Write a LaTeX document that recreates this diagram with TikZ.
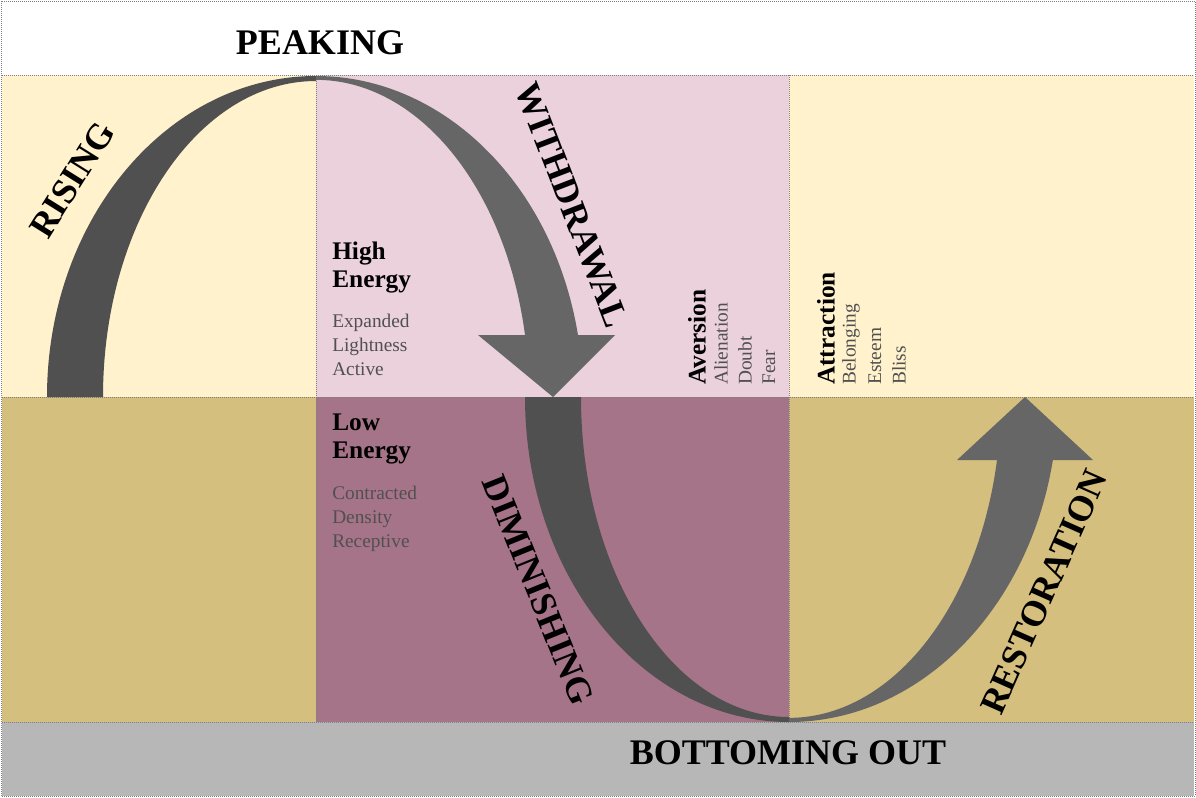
\documentclass[tikz,border=0pt]{standalone}
\usepackage{fontspec}
\setmainfont{Liberation Serif}
\definecolor{paleyellow}{HTML}{FFF2CC}
\definecolor{tan}{HTML}{D5BF7E}
\definecolor{palepink}{HTML}{EAD1DC}
\definecolor{mauve}{HTML}{A67488}
\definecolor{band}{HTML}{B7B7B7}
\definecolor{darkarc}{HTML}{505050}
\definecolor{midarc}{HTML}{666666}
\tikzset{
  cell/.style={draw=gray,densely dotted,line width=0.5pt},
  phase/.style={font=\bfseries\fontsize{27}{29}\selectfont},
  head/.style={font=\bfseries\fontsize{19}{21}\selectfont,align=left,anchor=north west,inner sep=0pt},
  item/.style={font=\fontsize{14.5}{18}\selectfont,text=darkarc,align=left,anchor=north west,inner sep=0pt},
  vhead/.style={font=\bfseries\fontsize{19}{21}\selectfont,rotate=90,anchor=west,inner sep=0pt},
  vitem/.style={font=\fontsize{14.5}{18}\selectfont,text=darkarc,rotate=90,anchor=west,inner sep=0pt}
}
\begin{document}
\begin{tikzpicture}[x=0.75pt,y=-0.75pt]
\useasboundingbox (0,0) rectangle (1196,797);
\fill[white] (0,0) rectangle (1196,797);
% cells
\fill[paleyellow] (2,75) rectangle (316,397);
\fill[palepink] (316,75) rectangle (789,397);
\fill[paleyellow] (789,75) rectangle (1194,397);
\fill[tan] (2,397) rectangle (316,722);
\fill[mauve] (316,397) rectangle (789,722);
\fill[tan] (789,397) rectangle (1194,722);
\fill[band] (2,722) rectangle (1194,796);
\draw[cell] (1,1) rectangle (1195,796);
\draw[cell] (2,75) -- (1194,75) (2,397) -- (1194,397) (2,722) -- (1194,722)
  (316,75) -- (316,722) (789,75) -- (789,722);
% arcs
\fill[darkarc] (47,397) arc[start angle=180,end angle=270,x radius=269,y radius=321]
  -- (316,81) arc[start angle=270,end angle=180,x radius=213,y radius=316] -- cycle;
\fill[midarc] (316,76) arc[start angle=270,end angle=348.9,x radius=267,y radius=321]
  -- (615,335) -- (553,397) -- (478,335) -- (525,335)
  arc[start angle=348.9,end angle=270,x radius=213,y radius=316] -- cycle;
\fill[darkarc] (525,397) arc[start angle=180,end angle=90,x radius=264,y radius=325]
  -- (789,717) arc[start angle=90,end angle=180,x radius=208,y radius=320] -- cycle;
\fill[midarc] (789,722) arc[start angle=90,end angle=11.2,x radius=269,y radius=325]
  -- (1093,460) -- (1025,397) -- (957,460) -- (997,460)
  arc[start angle=11.2,end angle=90,x radius=212,y radius=320] -- cycle;
% phase labels
\node[phase] (peaking) at (320,43) {PEAKING};
\node[phase] (bottoming) at (788,753) {BOTTOMING OUT};
\node[phase,rotate=58] (rising) at (72,180) {RISING};
\node[phase,rotate=-69] (withdrawal) at (572,205) {WITHDRAWAL};
\node[phase,rotate=-68] (diminishing) at (538,590) {DIMINISHING};
\node[phase,rotate=66] (restoration) at (1044,592) {RESTORATION};
% energy text
\node[head] (high) at (332,242) {High\\Energy};
\node[item] (highitems) at (332,314) {Expanded\\Lightness\\Active};
\node[head] (low) at (332,414) {Low\\Energy};
\node[item] (lowitems) at (332,486) {Contracted\\Density\\Receptive};
\node[vhead] (aversion) at (697,385) {Aversion};
\node[vitem] (alienation) at (721,385) {Alienation};
\node[vitem] (doubt) at (745,385) {Doubt};
\node[vitem] (fear) at (769,385) {Fear};
\node[vhead] (attraction) at (826,385) {Attraction};
\node[vitem] (belonging) at (851,385) {Belonging};
\node[vitem] (esteem) at (875,385) {Esteem};
\node[vitem] (bliss) at (899,385) {Bliss};
\end{tikzpicture}
\end{document}
